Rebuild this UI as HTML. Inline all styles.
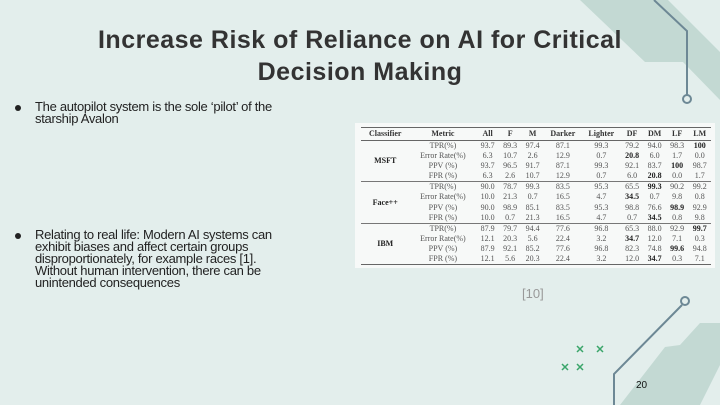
<!DOCTYPE html>
<html><head><meta charset="utf-8"><style>
body{margin:0;width:720px;height:405px;overflow:hidden;background:#e3eeec;position:relative;font-family:"Liberation Sans",sans-serif}
.t{position:absolute;left:0;width:720px;top:24px;text-align:center;font-size:25px;font-weight:bold;color:#333;line-height:32px;letter-spacing:0.5px}
.b{position:absolute;font-size:13px;color:#222;line-height:12px;letter-spacing:-0.3px}
.b:before{content:"";position:absolute;left:-20px;top:4px;width:6px;height:6px;border-radius:50%;background:#222}
.tab{position:absolute;left:355px;top:123px;width:360px;height:145px;background:#f7f9f8}
table{border-collapse:collapse;font-family:"Liberation Serif",serif;font-size:8px;color:#555;position:absolute;left:6px;top:4px;width:350px;border-top:1.5px solid #666;border-bottom:1.5px solid #666}
td,th{padding:0 1px;text-align:center;line-height:10.1px;white-space:nowrap}
th{font-weight:bold;color:#333;line-height:12px;border-bottom:1px solid #666}
tr.s td{border-top:1px solid #777}
b{color:#222}
</style></head><body>
<svg width="720" height="405" style="position:absolute;left:0;top:0">
<polygon points="580,0,668,0,720,52,720,100,683,62,645,62" fill="#c3d9d3"/>
<polyline points="654,0,687,31,687,95" fill="none" stroke="#6d8895" stroke-width="2"/>
<circle cx="687" cy="99" r="4" fill="none" stroke="#6d8895" stroke-width="2"/>
<polygon points="700,323,720,323,720,365,700,405,620,405,665,347,680,345" fill="#c3d9d3"/>
<polyline points="614,405,614,374,682,305" fill="none" stroke="#6d8895" stroke-width="2"/>
<circle cx="685" cy="301" r="4" fill="none" stroke="#6d8895" stroke-width="2"/>
<g stroke="#3aa56a" stroke-width="1.5">
<path d="M577,346l6,6M583,346l-6,6M597,346l6,6M603,346l-6,6M562,364l6,6M568,364l-6,6M577,364l6,6M583,364l-6,6"/></g>
</svg>
<div class="t">Increase Risk of Reliance on AI for Critical<br>Decision Making</div>
<div class="b" style="left:35px;top:101px">The autopilot system is the sole ‘pilot’ of the<br>starship Avalon</div>
<div class="b" style="left:35px;top:229px">Relating to real life: Modern AI systems can<br>exhibit biases and affect certain groups<br>disproportionately, for example races [1].<br>Without human intervention, there can be<br>unintended consequences</div>
<div style="position:absolute;left:522px;top:286px;font-size:13px;color:#999">[10]</div>
<div style="position:absolute;left:636px;top:380px;font-size:10px;color:#111">20</div>
<div class="tab"><table>
<tr><th>Classifier</th><th>Metric</th><th>All</th><th>F</th><th>M</th><th>Darker</th><th>Lighter</th><th>DF</th><th>DM</th><th>LF</th><th>LM</th></tr>
<tr><td rowspan="4"><b>MSFT</b></td><td>TPR(%)</td><td>93.7</td><td>89.3</td><td>97.4</td><td>87.1</td><td>99.3</td><td>79.2</td><td>94.0</td><td>98.3</td><td><b>100</b></td></tr>
<tr><td>Error Rate(%)</td><td>6.3</td><td>10.7</td><td>2.6</td><td>12.9</td><td>0.7</td><td><b>20.8</b></td><td>6.0</td><td>1.7</td><td>0.0</td></tr>
<tr><td>PPV (%)</td><td>93.7</td><td>96.5</td><td>91.7</td><td>87.1</td><td>99.3</td><td>92.1</td><td>83.7</td><td><b>100</b></td><td>98.7</td></tr>
<tr><td>FPR (%)</td><td>6.3</td><td>2.6</td><td>10.7</td><td>12.9</td><td>0.7</td><td>6.0</td><td><b>20.8</b></td><td>0.0</td><td>1.7</td></tr>
<tr class="s"><td rowspan="4"><b>Face++</b></td><td>TPR(%)</td><td>90.0</td><td>78.7</td><td>99.3</td><td>83.5</td><td>95.3</td><td>65.5</td><td><b>99.3</b></td><td>90.2</td><td>99.2</td></tr>
<tr><td>Error Rate(%)</td><td>10.0</td><td>21.3</td><td>0.7</td><td>16.5</td><td>4.7</td><td><b>34.5</b></td><td>0.7</td><td>9.8</td><td>0.8</td></tr>
<tr><td>PPV (%)</td><td>90.0</td><td>98.9</td><td>85.1</td><td>83.5</td><td>95.3</td><td>98.8</td><td>76.6</td><td><b>98.9</b></td><td>92.9</td></tr>
<tr><td>FPR (%)</td><td>10.0</td><td>0.7</td><td>21.3</td><td>16.5</td><td>4.7</td><td>0.7</td><td><b>34.5</b></td><td>0.8</td><td>9.8</td></tr>
<tr class="s"><td rowspan="4"><b>IBM</b></td><td>TPR(%)</td><td>87.9</td><td>79.7</td><td>94.4</td><td>77.6</td><td>96.8</td><td>65.3</td><td>88.0</td><td>92.9</td><td><b>99.7</b></td></tr>
<tr><td>Error Rate(%)</td><td>12.1</td><td>20.3</td><td>5.6</td><td>22.4</td><td>3.2</td><td><b>34.7</b></td><td>12.0</td><td>7.1</td><td>0.3</td></tr>
<tr><td>PPV (%)</td><td>87.9</td><td>92.1</td><td>85.2</td><td>77.6</td><td>96.8</td><td>82.3</td><td>74.8</td><td><b>99.6</b></td><td>94.8</td></tr>
<tr><td>FPR (%)</td><td>12.1</td><td>5.6</td><td>20.3</td><td>22.4</td><td>3.2</td><td>12.0</td><td><b>34.7</b></td><td>0.3</td><td>7.1</td></tr>
</table></div>
</body></html>
